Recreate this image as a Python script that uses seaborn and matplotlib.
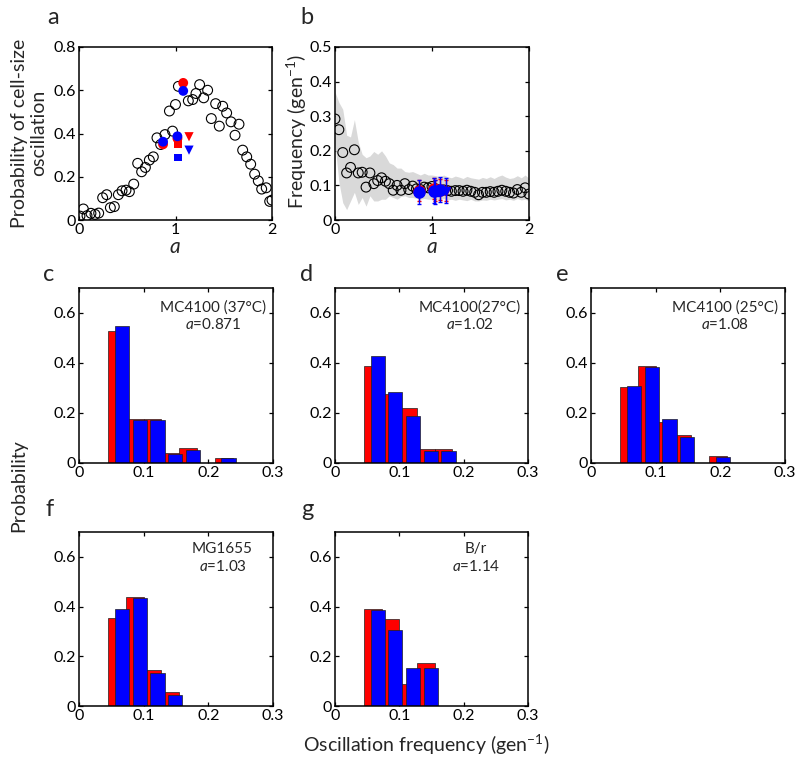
import numpy as np
import pandas as pd
import matplotlib
matplotlib.use("Agg")
import matplotlib.pyplot as plt
import seaborn as sns

# ---------------- data ----------------
# panel a: probability of cell-size oscillation vs a
a_alpha = [0.01, 0.045, 0.083, 0.124, 0.166, 0.204, 0.245, 0.287, 0.325, 0.366,
           0.408, 0.446, 0.487, 0.522, 0.567, 0.608, 0.649, 0.688, 0.729, 0.77,
           0.808, 0.846, 0.891, 0.937, 0.969, 1.0, 1.03, 1.133, 1.178, 1.212,
           1.25, 1.292, 1.333, 1.371, 1.416, 1.454, 1.489, 1.53, 1.575, 1.617,
           1.658, 1.696, 1.738, 1.779, 1.82, 1.858, 1.893, 1.94, 1.976, 2.0]
a_prob = [0.018, 0.051, 0.02, 0.031, 0.026, 0.032, 0.103, 0.117, 0.057, 0.062,
          0.117, 0.135, 0.138, 0.131, 0.166, 0.262, 0.223, 0.243, 0.277, 0.292,
          0.38, 0.349, 0.395, 0.504, 0.411, 0.534, 0.618, 0.551, 0.557, 0.585,
          0.626, 0.565, 0.6, 0.469, 0.538, 0.434, 0.526, 0.495, 0.454, 0.392,
          0.443, 0.323, 0.292, 0.258, 0.212, 0.181, 0.143, 0.149, 0.086, 0.092]

# experimental strains (c..g)
exp_alpha = [0.871, 1.02, 1.08, 1.03, 1.14]
exp_marker = ["o", "o", "o", "s", "v"]
exp_prob_red = [0.35, 0.377, 0.634, 0.352, 0.385]
exp_prob_blue = [0.362, 0.387, 0.597, 0.289, 0.323]

# panel b: oscillation frequency vs a
b_alpha = [0.0, 0.04, 0.08, 0.12, 0.16, 0.2, 0.24, 0.28, 0.32, 0.36,
           0.4, 0.44, 0.48, 0.52, 0.56, 0.6, 0.64, 0.68, 0.72, 0.76,
           0.8, 0.84, 0.88, 0.92, 0.96, 1.0, 1.04, 1.08, 1.12, 1.16,
           1.2, 1.24, 1.28, 1.32, 1.36, 1.4, 1.44, 1.48, 1.52, 1.56,
           1.6, 1.64, 1.68, 1.72, 1.76, 1.8, 1.84, 1.88, 1.92, 1.96, 2.0]
b_freq = [0.292, 0.261, 0.195, 0.136, 0.152, 0.203, 0.136, 0.138, 0.095, 0.136,
          0.105, 0.114, 0.122, 0.112, 0.105, 0.086, 0.1, 0.086, 0.105, 0.088,
          0.098, 0.09, 0.088, 0.095, 0.093, 0.097, 0.09, 0.085, 0.087, 0.085,
          0.083, 0.085, 0.085, 0.083, 0.086, 0.083, 0.08, 0.073, 0.08, 0.08,
          0.082, 0.08, 0.083, 0.086, 0.083, 0.08, 0.078, 0.088, 0.08, 0.093, 0.075]
b_upper = [0.37, 0.34, 0.32, 0.245, 0.24, 0.29, 0.225, 0.19, 0.18, 0.185,
           0.198, 0.19, 0.2, 0.185, 0.165, 0.16, 0.15, 0.15, 0.14, 0.138,
           0.14, 0.135, 0.13, 0.135, 0.13, 0.13, 0.128, 0.125, 0.13, 0.125,
           0.122, 0.127, 0.124, 0.12, 0.126, 0.122, 0.12, 0.118, 0.123, 0.12,
           0.125, 0.12, 0.126, 0.13, 0.124, 0.12, 0.122, 0.128, 0.122, 0.13, 0.12]
b_lower = [0.22, 0.11, 0.05, 0.03, 0.055, 0.08, 0.045, 0.065, 0.04, 0.07,
           0.055, 0.055, 0.06, 0.06, 0.07, 0.065, 0.06, 0.068, 0.07, 0.065,
           0.065, 0.063, 0.06, 0.062, 0.06, 0.06, 0.058, 0.06, 0.062, 0.058,
           0.06, 0.057, 0.06, 0.058, 0.056, 0.06, 0.055, 0.055, 0.058, 0.057,
           0.06, 0.058, 0.06, 0.062, 0.058, 0.06, 0.057, 0.062, 0.058, 0.06, 0.055]
exp_freq_red = [0.085, 0.09, 0.088, 0.085, 0.085]
exp_freq_blue = [0.082, 0.085, 0.088, 0.08, 0.085]
exp_err_red = [0.03, 0.03, 0.03, 0.03, 0.03]
exp_err_blue = [0.035, 0.035, 0.035, 0.035, 0.035]

# histograms (c..g): red = experiment, blue = model
hist_bin_index = [0, 1, 2, 3, 4, 5, 6]
hist_red = {
    "c": [0.53, 0.175, 0.175, 0.04, 0.058, 0.0, 0.021],
    "d": [0.389, 0.277, 0.221, 0.054, 0.054, 0.0, 0.0],
    "e": [0.306, 0.389, 0.165, 0.111, 0.0, 0.026, 0.0],
    "f": [0.353, 0.44, 0.146, 0.058, 0.0, 0.0, 0.0],
    "g": [0.392, 0.348, 0.087, 0.174, 0.0, 0.0, 0.0],
}
hist_blue = {
    "c": [0.55, 0.172, 0.172, 0.035, 0.052, 0.0, 0.018],
    "d": [0.43, 0.286, 0.19, 0.047, 0.047, 0.0, 0.0],
    "e": [0.307, 0.384, 0.178, 0.102, 0.0, 0.024, 0.0],
    "f": [0.392, 0.434, 0.131, 0.043, 0.0, 0.0, 0.0],
    "g": [0.385, 0.307, 0.154, 0.154, 0.0, 0.0, 0.0],
}
strain_names = {"c": "MC4100 (37°C)", "d": "MC4100(27°C)", "e": "MC4100 (25°C)",
                "f": "MG1655", "g": "B/r"}
strain_alpha = {"c": "0.871", "d": "1.02", "e": "1.08", "f": "1.03", "g": "1.14"}

# ---------------- style ----------------
sns.set_theme(style="ticks")
FONT = ["Lato", "DejaVu Sans"]
plt.rcParams["font.family"] = FONT
plt.rcParams["mathtext.fontset"] = "custom"
plt.rcParams["mathtext.rm"] = "Lato"
plt.rcParams["mathtext.it"] = "Lato:italic"
plt.rcParams["axes.linewidth"] = 1.1
plt.rcParams["axes.edgecolor"] = "black"

TICK_FS = 11.5
LAB_FS = 14
ANN_FS = 11

W, H = 800, 765
fig = plt.figure(figsize=(W / 100, H / 100), dpi=100)
fig.patch.set_facecolor("white")


def add_ax(x0, y0, x1, y1):
    return fig.add_axes([x0 / W, 1 - y1 / H, (x1 - x0) / W, (y1 - y0) / H])


def style_ax(ax):
    ax.tick_params(direction="in", top=True, right=True, length=3, width=0.9,
                   labelsize=TICK_FS, colors="black", pad=2.5)
    for s in ax.spines.values():
        s.set_visible(True)
        s.set_color("black")
        s.set_linewidth(1.1)
    ax.set_xlabel("")
    ax.set_ylabel("")


def ftext(x, y, s, **kw):
    fig.text(x / W, 1 - y / H, s, **kw)


# ---------------- panel a ----------------
ax_a = add_ax(79, 47, 272, 220)
sns.scatterplot(x=a_alpha, y=a_prob, ax=ax_a, marker="o", s=50,
                facecolors="none", edgecolors="black", linewidth=0.8, zorder=2)
for al, m, pr, pb in zip(exp_alpha, exp_marker, exp_prob_red, exp_prob_blue):
    sz = 50 if m == "o" else (32 if m == "s" else 44)
    sns.scatterplot(x=[al], y=[pr], ax=ax_a, marker=m, s=sz, color="#ff0000",
                    edgecolor="none", zorder=3)
    sns.scatterplot(x=[al], y=[pb], ax=ax_a, marker=m, s=sz, color="#0000ff",
                    edgecolor="none", zorder=4)
ax_a.set_xlim(0, 2)
ax_a.set_ylim(0, 0.8)
ax_a.set_xticks([0, 1, 2])
ax_a.set_yticks([0, 0.2, 0.4, 0.6, 0.8])
ax_a.set_yticklabels(["0", "0.2", "0.4", "0.6", "0.8"])
style_ax(ax_a)

# ---------------- panel b ----------------
ax_b = add_ax(335, 47, 529, 220)
ax_b.fill_between(b_alpha, b_lower, b_upper, color="#d9d9d9", linewidth=0, zorder=1)
sns.scatterplot(x=b_alpha, y=b_freq, ax=ax_b, marker="o", s=50,
                facecolors="none", edgecolors="black", linewidth=0.8, zorder=2)
for al, m, fr, fb, er, eb in zip(exp_alpha, exp_marker, exp_freq_red, exp_freq_blue,
                                 exp_err_red, exp_err_blue):
    sz = 8 if m == "o" else 6
    ax_b.errorbar([al], [fr], yerr=[er], fmt=m, color="#ff0000", ms=sz,
                  elinewidth=1, capsize=1.5, zorder=3)
    ax_b.errorbar([al], [fb], yerr=[eb], fmt=m, color="#0000ff", ms=sz,
                  elinewidth=1, capsize=1.5, zorder=4)
ax_b.set_xlim(0, 2)
ax_b.set_ylim(0, 0.5)
ax_b.set_xticks([0, 1, 2])
ax_b.set_yticks([0, 0.1, 0.2, 0.3, 0.4, 0.5])
ax_b.set_yticklabels(["0", "0.1", "0.2", "0.3", "0.4", "0.5"])
style_ax(ax_b)

# ---------------- histograms ----------------
BIN_START = 0.045
BIN_W = 0.0275
BLUE_SHIFT = 0.0076
nb = len(hist_bin_index)
red_edges = [BIN_START + BIN_W * k for k in range(nb + 1)]
blue_edges = [e + BLUE_SHIFT for e in red_edges]
red_centers = [(red_edges[k] + red_edges[k + 1]) / 2 for k in range(nb)]
blue_centers = [(blue_edges[k] + blue_edges[k + 1]) / 2 for k in range(nb)]

hist_boxes = {
    "c": (79, 288, 273, 463),
    "d": (335, 288, 528, 463),
    "e": (591, 288, 785, 463),
    "f": (79, 532, 273, 706),
    "g": (335, 532, 528, 706),
}
text_pos = {"c": (0.69, 0.89, 0.79), "d": (0.70, 0.89, 0.79), "e": (0.69, 0.89, 0.79),
            "f": (0.74, 0.90, 0.80), "g": (0.73, 0.90, 0.80)}

for key, box in hist_boxes.items():
    ax = add_ax(*box)
    df_r = pd.DataFrame({"freq": red_centers, "p": hist_red[key]})
    df_b = pd.DataFrame({"freq": blue_centers, "p": hist_blue[key]})
    sns.histplot(data=df_r, x="freq", weights="p", bins=red_edges, ax=ax,
                 color="#ff0000", alpha=1, edgecolor="#202020", linewidth=0.5)
    sns.histplot(data=df_b, x="freq", weights="p", bins=blue_edges, shrink=0.8, ax=ax,
                 color="#0000ff", alpha=1, edgecolor="#202020", linewidth=0.5)
    ax.set_xlim(0, 0.3)
    ax.set_ylim(0, 0.7)
    ax.set_xticks([0, 0.1, 0.2, 0.3])
    ax.set_xticklabels(["0", "0.1", "0.2", "0.3"])
    ax.set_yticks([0, 0.2, 0.4, 0.6])
    ax.set_yticklabels(["0", "0.2", "0.4", "0.6"])
    style_ax(ax)
    tx, ty1, ty2 = text_pos[key]
    ax.text(tx, ty1, strain_names[key], transform=ax.transAxes, ha="center",
            va="center", fontsize=ANN_FS)
    ax.text(tx, ty2, "$\\mathit{a}$=" + strain_alpha[key], transform=ax.transAxes,
            ha="center", va="center", fontsize=ANN_FS)

# ---------------- labels ----------------
for lab, (x, y) in {"a": (53, 18), "b": (307, 18), "c": (49, 274), "d": (307, 274),
                    "e": (562, 274), "f": (50, 510), "g": (307, 510)}.items():
    ftext(x, y, lab, fontsize=17, ha="center", va="center")

ftext(29, 133, "Probability of cell-size\noscillation", rotation=90, ha="center",
      va="center", fontsize=LAB_FS, linespacing=1.1)
ftext(297, 131, "Frequency (gen$^{-1}$)", rotation=90, ha="center", va="center",
      fontsize=LAB_FS)
ftext(175, 247, "a", style="italic", ha="center", va="center", fontsize=15)
ftext(432, 247, "a", style="italic", ha="center", va="center", fontsize=15)
ftext(19, 486, "Probability", rotation=90, ha="center", va="center", fontsize=LAB_FS)
ftext(426, 745, "Oscillation frequency (gen$^{-1}$)", ha="center", va="center",
      fontsize=LAB_FS)

fig.savefig("out.png", dpi=100, facecolor="white")
